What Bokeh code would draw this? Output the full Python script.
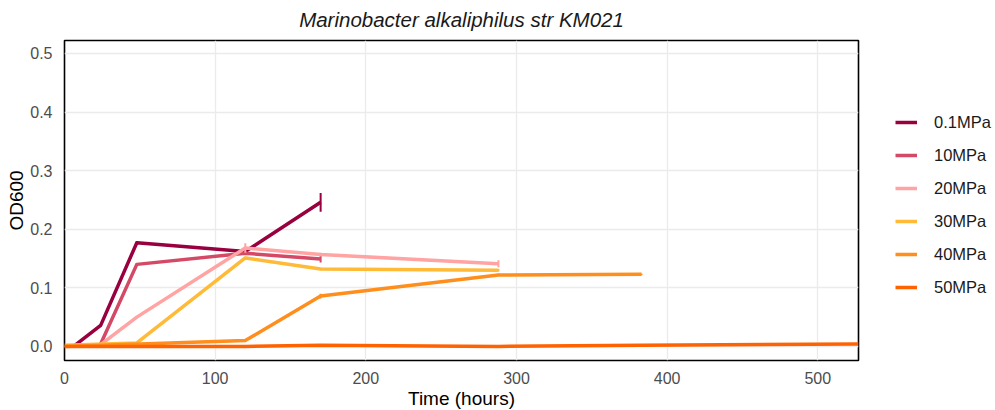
from bokeh.plotting import figure
from bokeh.models import Legend, LegendItem, Range1d, PrintfTickFormatter, FixedTicker, ColumnDataSource
from bokeh.embed import file_html
from bokeh.resources import INLINE

series_names = ["0.1MPa", "10MPa", "20MPa", "30MPa", "40MPa", "50MPa"]
colors = ["#98003F", "#D44A66", "#FFA3A3", "#FFBA38", "#FF8E1C", "#FF6200"]

t_01 = [6, 24, 48, 120, 170]
od_01 = [0.0, 0.036, 0.177, 0.162, 0.246]
err_01 = [0.0, 0.002, 0.003, 0.003, 0.016]

t_10 = [24, 48, 120, 170]
od_10 = [0.004, 0.140, 0.159, 0.149]
err_10 = [0.0, 0.002, 0.003, 0.006]

t_20 = [24, 48, 120, 170, 288]
od_20 = [0.003, 0.050, 0.168, 0.157, 0.141]
err_20 = [0.0, 0.0, 0.008, 0.003, 0.006]

t_30 = [0, 48, 120, 170, 288]
od_30 = [0.002, 0.006, 0.151, 0.132, 0.130]
err_30 = [0.0, 0.001, 0.002, 0.002, 0.002]

t_40 = [0, 120, 170, 288, 383]
od_40 = [0.0, 0.010, 0.086, 0.122, 0.123]
err_40 = [0.0, 0.001, 0.004, 0.002, 0.001]

t_50 = [0, 120, 170, 288, 383, 527]
od_50 = [0.0, 0.0, 0.002, 0.0, 0.002, 0.004]
err_50 = [0.0, 0.0, 0.0, 0.0, 0.0, 0.0]

all_t = [t_01, t_10, t_20, t_30, t_40, t_50]
all_od = [od_01, od_10, od_20, od_30, od_40, od_50]
all_err = [err_01, err_10, err_20, err_30, err_40, err_50]

x_ticks = [0, 100, 200, 300, 400, 500]
y_ticks = [0.0, 0.1, 0.2, 0.3, 0.4, 0.5]

FONT = "Liberation Sans"

p = figure(frame_width=794, frame_height=320, output_backend="svg", toolbar_location=None,
           x_range=Range1d(0, 527), y_range=Range1d(-0.024, 0.522),
           min_border_left=64, min_border_right=136, min_border_top=0, min_border_bottom=50)

p.title.text = "Marinobacter alkaliphilus str KM021"
p.title.align = "center"
p.title.vertical_align = "top"
p.title.text_font = FONT
p.title.text_font_style = "italic"
p.title.text_font_size = "20.5px"
p.title.text_color = "#1a1a1a"
p.title.standoff = 15

p.outline_line_color = "black"
p.outline_line_width = 1.6
p.background_fill_color = "white"
p.border_fill_color = "white"

p.xgrid.ticker = FixedTicker(ticks=x_ticks)
p.ygrid.ticker = FixedTicker(ticks=y_ticks)
p.xaxis.ticker = FixedTicker(ticks=x_ticks)
p.yaxis.ticker = FixedTicker(ticks=y_ticks)
p.yaxis.formatter = PrintfTickFormatter(format="%.1f")
p.grid.grid_line_color = "#EBEBEB"
p.grid.grid_line_width = 1.3

for ax in (p.xaxis, p.yaxis):
    ax.axis_line_color = None
    ax.major_tick_line_color = None
    ax.minor_tick_line_color = None
    ax.major_label_text_font = FONT
    ax.major_label_text_font_size = "16px"
    ax.major_label_text_color = "#4D4D4D"
    ax.axis_label_text_font = FONT
    ax.axis_label_text_font_size = "19px"
    ax.axis_label_text_font_style = "normal"
    ax.axis_label_text_color = "black"

p.xaxis.axis_label = "Time (hours)"
p.yaxis.axis_label = "OD600"
p.xaxis.major_label_standoff = 5
p.yaxis.major_label_standoff = 6
p.xaxis.axis_label_standoff = 1
p.yaxis.axis_label_standoff = 0

items = []
for name, c, t, od, err in zip(series_names, colors, all_t, all_od, all_err):
    src = ColumnDataSource(dict(t=t, od=od,
                                lo=[o - e for o, e in zip(od, err)],
                                hi=[o + e for o, e in zip(od, err)]))
    r = p.line("t", "od", source=src, line_color=c, line_width=3.5, line_join="round")
    p.segment(x0="t", y0="lo", x1="t", y1="hi", source=src, line_color=c, line_width=2)
    items.append(LegendItem(label=name, renderers=[r]))

legend = Legend(items=items, location=(37, 63))
legend.margin = 0
legend.padding = 0
legend.glyph_width = 22
legend.glyph_height = 20
legend.spacing = 13
legend.label_standoff = 17
legend.label_text_font = FONT
legend.label_text_font_size = "16.5px"
legend.label_text_color = "#1a1a1a"
legend.border_line_color = None
legend.background_fill_alpha = 0
p.add_layout(legend, "right")

open("out.html", "w").write(file_html(p, INLINE))
